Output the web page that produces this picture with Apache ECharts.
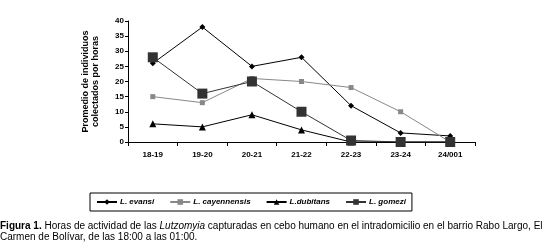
<!DOCTYPE html>
<html>
<head>
<meta charset="utf-8">
<script src="https://cdn.jsdelivr.net/npm/echarts@6/dist/echarts.min.js"></script>
<style>
  html, body { margin: 0; padding: 0; background: #fff; }
  #chart { width: 556px; height: 243px; }
</style>
</head>
<body>
<div id="chart"></div>
<script>
const categories = ['18-19', '19-20', '20-21', '21-22', '22-23', '23-24', '24/001']
const evansi = [26, 38, 25, 28, 12, 3, 2]
const cayennensis = [15, 13, 21, 20, 18, 10, 0]
const dubitans = [6, 5, 9, 4, 0, 0, 0]
const gomezi = [28, 16, 20, 10, 0.5, 0, 0]
const yTicks = { min: 0, max: 40, interval: 5 }

const chart = echarts.init(document.getElementById('chart'))

const font = 'Liberation Sans, Arial, sans-serif'

const mkSeries = (name, data, symbol, size, color, lineColor) => ({
  name,
  type: 'line',
  data,
  symbol,
  symbolSize: size,
  lineStyle: { color: lineColor || color, width: 1 },
  itemStyle: { color },
  animation: false
})

const option = {
  animation: false,
  grid: { left: 128, right: 81, top: 21, bottom: 101 },
  xAxis: {
    type: 'category',
    data: categories,
    boundaryGap: true,
    axisLine: { lineStyle: { color: '#000', width: 1 } },
    axisTick: { show: true, length: 4, lineStyle: { color: '#000' } },
    axisLabel: { color: '#000', fontFamily: font, fontWeight: 'bold', fontSize: 8, margin: 9 }
  },
  yAxis: {
    type: 'value',
    min: yTicks.min,
    max: yTicks.max,
    interval: yTicks.interval,
    name: 'Promedio de individuos\ncolectados por horas',
    nameLocation: 'middle',
    nameRotate: 90,
    nameGap: 27,
    nameTextStyle: { color: '#000', fontFamily: font, fontWeight: 'bold', fontSize: 9, lineHeight: 10 },
    axisLine: { show: true, lineStyle: { color: '#000', width: 1 } },
    axisTick: { show: true, length: 3, lineStyle: { color: '#000' } },
    axisLabel: { color: '#000', fontFamily: font, fontWeight: 'bold', fontSize: 8, margin: 4 },
    splitLine: { show: false }
  },
  legend: {
    left: 90,
    top: 193,
    padding: [5, 6, 5, 6],
    borderColor: '#000',
    borderWidth: 1,
    itemWidth: 20,
    itemHeight: 7,
    itemGap: 15,
    textStyle: { color: '#000', fontFamily: font, fontWeight: 'bold', fontStyle: 'italic', fontSize: 8, padding: [0, 0, 0, -2] },
    data: ['L. evansi', 'L. cayennensis', 'L.dubitans', 'L. gomezi']
  },
  graphic: [
    {
      type: 'text',
      left: 0,
      top: 221,
      style: {
        text: '{b|Figura 1.} Horas de actividad de las {i|Lutzomyia} capturadas en cebo humano en el intradomicilio en el barrio Rabo Largo, El',
        fill: '#000',
        font: '10px ' + font,
        rich: {
          b: { fontWeight: 'bold', fontSize: 10, fontFamily: font, fill: '#000' },
          i: { fontStyle: 'italic', fontSize: 10, fontFamily: font, fill: '#000' }
        }
      }
    },
    {
      type: 'text',
      left: 0,
      top: 232,
      style: {
        text: 'Carmen de Bolívar, de las 18:00 a las 01:00.',
        fill: '#000',
        font: '10px ' + font
      }
    }
  ],
  series: [
    mkSeries('L. evansi', evansi, 'diamond', 6, '#000'),
    mkSeries('L. cayennensis', cayennensis, 'rect', 5, '#888'),
    mkSeries('L.dubitans', dubitans, 'triangle', 7, '#000'),
    mkSeries('L. gomezi', gomezi, 'rect', 10, '#333')
  ]
}

chart.setOption(option)
</script>
</body>
</html>
